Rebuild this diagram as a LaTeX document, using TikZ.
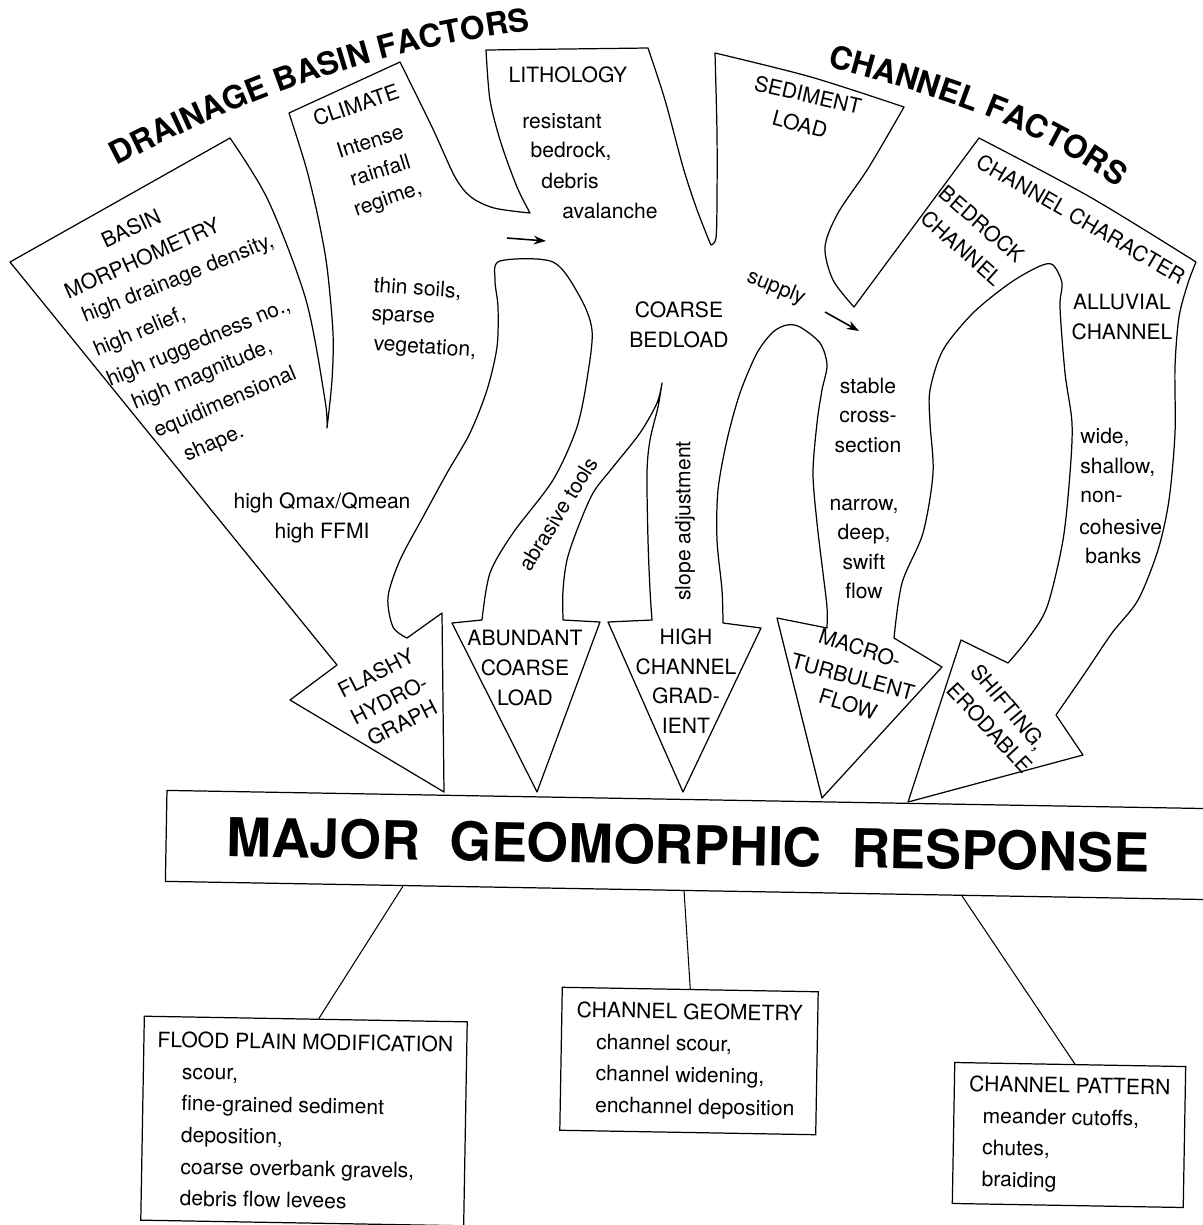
\documentclass[tikz,border=0pt]{standalone}
\usepackage{fontspec}
\setmainfont{TeX Gyre Heros}
\usetikzlibrary{arrows.meta,calc,decorations.text}

\begin{document}
\begin{tikzpicture}[x=0.02cm,y=0.02cm,
  lbl/.style={inner sep=0pt, font=\fontsize{12}{16.8}\selectfont, align=center},
  ltxt/.style={inner sep=0pt, font=\fontsize{12}{16.8}\selectfont},
  rbox/.style={draw, line width=0.7pt, rotate=-1, inner sep=0pt, align=left, font=\fontsize{12}{18}\selectfont},
  outline/.style={line width=0.7pt, line join=round},
  flowarrow/.style={line width=0.9pt, -{Stealth[length=7pt,width=5pt]}},
  link/.style={line width=0.6pt}]
\useasboundingbox (0,0) rectangle (1203,-1225);

% titles along the arcs
\path[decorate, decoration={text along path, text align=center,
  text={|\fontsize{18}{18}\selectfont\bfseries|DRAINAGE BASIN FACTORS}}]
  (95,-177) .. controls (244,-97) and (386,-45) .. (555,-28);
\path[decorate, decoration={text along path, text align=center,
  text={|\fontsize{18}{18}\selectfont\bfseries|CHANNEL FACTORS}}]
  (806,-61) .. controls (923,-92) and (1041,-123) .. (1134,-201);

% the fan of factor arrows
\draw[outline] (10,-262) -- (230,-138)
  -- plot[smooth] coordinates {(230,-138) (268,-200) (306,-300) (325,-400) (327,-428)}
  -- plot[smooth] coordinates {(327,-428) (332,-380) (333,-333) (327,-267) (318,-217) (306,-167) (289,-113)}
  -- (400,-62)
  -- plot[smooth] coordinates {(400,-62) (432,-127) (455,-177) (471,-197) (494,-208) (530,-213)}
  -- plot[smooth] coordinates {(530,-213) (517,-187) (501,-143) (490,-100) (486,-50)}
  -- (648,-48)
  -- plot[smooth] coordinates {(648,-48) (665,-100) (683,-167) (696,-207) (708,-238) (711,-245)}
  -- plot[smooth] coordinates {(711,-245) (716,-238) (717,-200) (717,-133) (715,-53)}
  -- plot[smooth] coordinates {(715,-53) (811,-77) (904,-107)}
  -- plot[smooth] coordinates {(904,-107) (869,-167) (838,-213) (825,-247) (833,-280) (854,-307)}
  -- (979,-138)
  -- plot[smooth] coordinates {(979,-138) (1090,-197) (1196,-262)}
  -- plot[smooth] coordinates {(1196,-262) (1188,-283) (1179,-317) (1175,-367) (1175,-433)
       (1169,-500) (1158,-550) (1138,-600) (1112,-633) (1085,-673) (1056,-715)}
  -- (1083,-755) -- (908,-802) -- (961,-640) -- (1008,-663)
  -- plot[smooth] coordinates {(1008,-663) (1027,-640) (1047,-607) (1063,-540) (1070,-473)
       (1072,-423) (1065,-373) (1060,-307) (1062,-283) (1053,-265) (1040,-266) (1010,-283)
       (973,-313) (943,-350) (930,-390) (930,-423) (933,-473) (923,-533) (902,-583) (894,-638)}
  -- (942,-667) -- (822,-798) -- (777,-618) -- (827,-628)
  -- plot[smooth] coordinates {(827,-628) (827,-607) (823,-573) (817,-523) (813,-473) (817,-423)
       (822,-390) (827,-365) (820,-343) (800,-327) (787,-325) (773,-332) (757,-353) (740,-393)
       (727,-440) (718,-490) (717,-540) (722,-590) (723,-623)}
  -- (761,-628) -- (683,-792) -- (608,-622) -- (652,-620)
  -- plot[smooth] coordinates {(652,-620) (650,-590) (648,-540) (647,-473) (650,-440) (658,-407) (662,-383)}
  -- plot[smooth] coordinates {(662,-383) (657,-403) (640,-433) (613,-467) (593,-493) (577,-530)
       (567,-560) (563,-590) (563,-620)}
  -- (600,-622) -- (537,-792) -- (452,-623) -- (482,-620)
  -- plot[smooth] coordinates {(482,-620) (490,-573) (513,-533) (553,-480) (577,-427) (588,-373)
       (592,-330) (580,-297) (553,-262) (500,-261) (495,-280) (498,-307) (497,-347) (487,-390)
       (470,-433) (447,-473) (423,-517) (400,-560) (388,-597) (393,-627) (407,-638)}
  -- (442,-613) -- (444,-792) -- (290,-700) -- (337,-665) -- cycle;

% small flow arrows
\coordinate (lithA) at (507,-238);
\coordinate (lithB) at (546,-241);
\coordinate (suppA) at (825,-312);
\coordinate (suppB) at (859,-331);
\draw[flowarrow] (lithA) -- (lithB);
\draw[flowarrow] (suppA) -- (suppB);

% drainage basin labels
\node[lbl, rotate=25] (basin1) at (131,-228) {BASIN};
\node[lbl, rotate=24] (basin2) at (142,-258) {MORPHOMETRY};
\node[ltxt, rotate=22, anchor=base west] (morph1) at (85,-323) {high drainage density,};
\node[ltxt, rotate=23, anchor=base west] (morph2) at (97,-357) {high relief,};
\node[ltxt, rotate=23, anchor=base west] (morph3) at (110,-387) {high ruggedness no.,};
\node[ltxt, rotate=23, anchor=base west] (morph4) at (135,-410) {high magnitude,};
\node[ltxt, rotate=23, anchor=base west] (morph5) at (157,-438) {equidimensional};
\node[ltxt, rotate=24, anchor=base west] (morph6) at (187,-462) {shape.};
\node[lbl, rotate=19] (clim1) at (356,-105) {CLIMATE};
\node[lbl, rotate=18] (clim2) at (370,-141) {Intense};
\node[lbl, rotate=17] (clim3) at (380,-170) {rainfall};
\node[lbl, rotate=19] (clim4) at (388,-200) {regime,};
\node[ltxt, rotate=-4, anchor=base west] (soil1) at (373,-292) {thin soils,};
\node[ltxt, rotate=-3, anchor=base west] (soil2) at (371,-320) {sparse};
\node[ltxt, rotate=-4, anchor=base west] (soil3) at (373,-350) {vegetation,};
\node[lbl] (lith1) at (568,-75) {LITHOLOGY};
\node[lbl] (lith2) at (562,-121) {resistant};
\node[lbl] (lith3) at (571,-151) {bedrock,};
\node[lbl] (lith4) at (570,-181) {debris};
\node[lbl] (lith5) at (610,-211) {avalanche};
\node[lbl] (qmax) at (322,-518) {high Qmax/Qmean\\high FFMI};

% channel factor labels
\node[lbl, rotate=-13] (sed1) at (808,-95) {SEDIMENT};
\node[lbl, rotate=-15] (sed2) at (800,-124) {LOAD};
\node[lbl] (coarse) at (679,-325) {COARSE\\BEDLOAD};
\node[lbl, rotate=-22] (supply) at (776,-288) {supply};
\node[lbl, rotate=-30] (chchar) at (1081,-219) {CHANNEL CHARACTER};
\node[lbl, rotate=-41] (bed1) at (982,-224) {BEDROCK};
\node[lbl, rotate=-42] (bed2) at (962,-248) {CHANNEL};
\node[lbl] (alluv) at (1122,-317) {ALLUVIAL\\CHANNEL};
\node[lbl] (stable) at (868,-415) {stable\\cross-\\section};
\node[lbl] (narrow) at (864,-549) {narrow,\\deep,\\swift\\flow};
\node[ltxt, anchor=west] (wide1) at (1080,-437) {wide,};
\node[ltxt, anchor=west] (wide2) at (1080,-467) {shallow,};
\node[ltxt, anchor=west] (wide3) at (1080,-497) {non-};
\node[ltxt, anchor=west] (wide4) at (1079,-527) {cohesive};
\node[ltxt, anchor=west] (wide5) at (1085,-556) {banks};
\node[lbl, rotate=58] (abras) at (558,-514) {abrasive tools};
\node[lbl, rotate=90] (slope) at (685,-521) {slope adjustment};

% arrowhead labels
\node[lbl, rotate=27] (flashy1) at (376,-673) {FLASHY};
\node[lbl, rotate=27] (flashy2) at (389,-700) {HYDRO-};
\node[lbl, rotate=27] (flashy3) at (402,-723) {GRAPH};
\node[lbl] (abund) at (525,-668) {ABUNDANT\\COARSE\\LOAD};
\node[lbl] (grad) at (686,-681) {HIGH\\CHANNEL\\GRAD-\\IENT};
\node[lbl, rotate=-18] (macro1) at (860,-648) {MACRO-};
\node[lbl, rotate=-15] (macro2) at (853,-677) {TURBULENT};
\node[lbl, rotate=-17] (macro3) at (848,-704) {FLOW};
\node[lbl, rotate=-50] (shift1) at (1008,-708) {SHIFTING,};
\node[lbl, rotate=-47] (shift2) at (990,-728) {ERODABLE};

% response and its results
\node[draw, line width=0.7pt, rotate=-1, minimum width=20.88cm, minimum height=1.82cm, inner sep=0pt,
  font=\fontsize{30.5}{30.5}\selectfont\bfseries] (resp) at (688,-845)
  {MAJOR\hspace{0.55em}GEOMORPHIC\hspace{0.55em}RESPONSE};
\node[rbox, minimum width=6.46cm, minimum height=4.08cm] (flood) at (304,-1121)
  {FLOOD PLAIN MODIFICATION\\\hspace*{0.5cm}scour,\\\hspace*{0.5cm}fine-grained sediment\\
   \hspace*{0.5cm}deposition,\\\hspace*{0.5cm}coarse overbank gravels,\\\hspace*{0.5cm}debris flow levees};
\node[rbox, minimum width=5.12cm, minimum height=2.86cm] (geom) at (689,-1061)
  {CHANNEL GEOMETRY\\\hspace*{0.4cm}channel scour,\\\hspace*{0.4cm}channel widening,\\
   \hspace*{0.4cm}enchannel deposition};
\node[rbox, minimum width=4.62cm, minimum height=2.82cm] (pattern) at (1069,-1135)
  {CHANNEL PATTERN\\\hspace*{0.28cm}meander cutoffs,\\\hspace*{0.28cm}chutes,\\\hspace*{0.28cm}braiding};
\draw[link] ($(resp.south west)!0.228!(resp.south east)$) -- ($(flood.north west)!0.54!(flood.north east)$);
\draw[link] ($(resp.south west)!0.497!(resp.south east)$) -- (geom.north);
\draw[link] ($(resp.south west)!0.763!(resp.south east)$) -- ($(pattern.north west)!0.52!(pattern.north east)$);
\end{tikzpicture}
\end{document}
